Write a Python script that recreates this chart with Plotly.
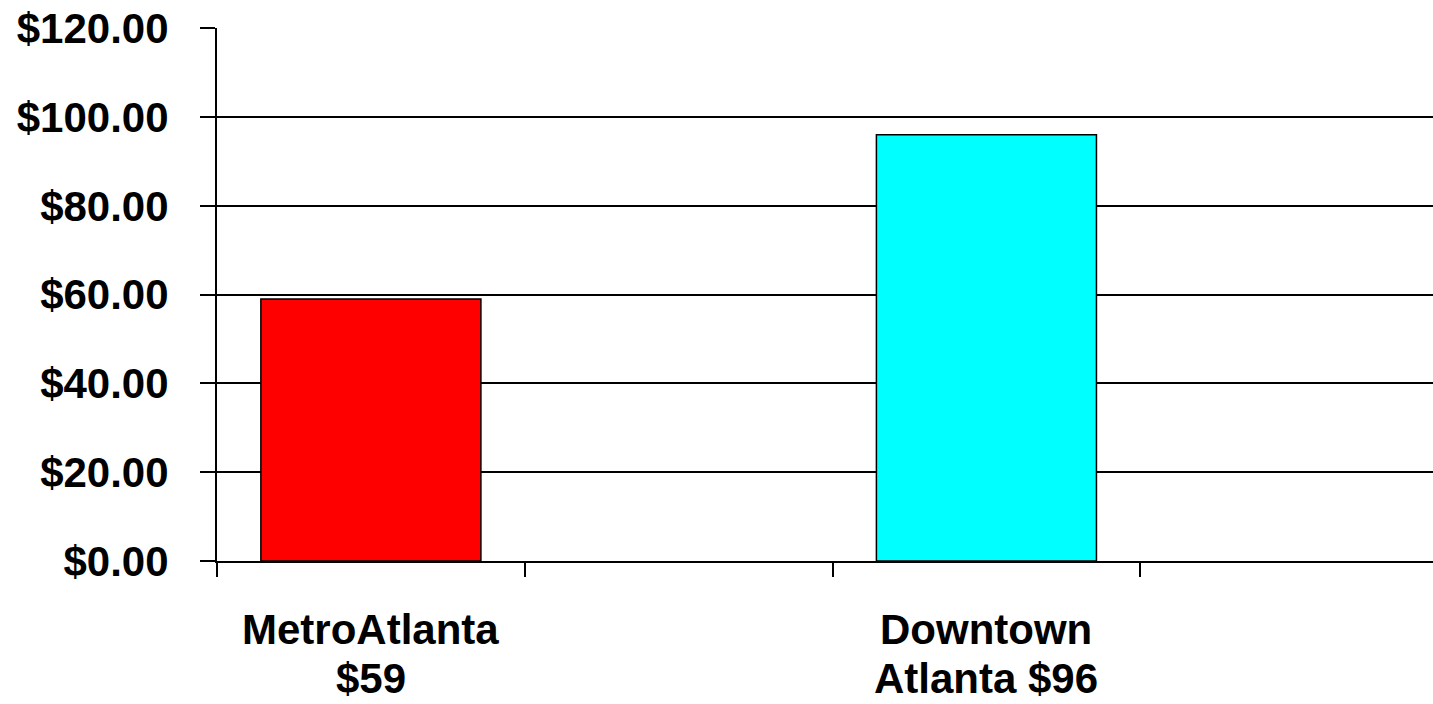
import plotly.graph_objects as go

# Average daily rate by market area
label_lines = [["MetroAtlanta", "$59"], ["Downtown", "Atlanta $96"]]
values = [59, 96]
positions = [0, 2]
colors = ["#ff0000", "#00ffff"]
slot_edges = [-0.5, 0.5, 1.5, 2.5]
y_ticks = [0, 20, 40, 60, 80, 100, 120]
y_tick_text = ["$%.2f" % v for v in y_ticks]

font_family = "Liberation Sans, Arial, sans-serif"
label_font = dict(family=font_family, size=42, color="black", weight="bold")

fig = go.Figure(
    go.Bar(
        x=positions,
        y=values,
        width=0.715,
        marker=dict(color=colors, line=dict(color="black", width=1.5)),
        hoverinfo="skip",
    )
)

# Two-line category labels under the axis, one annotation per line
line_offsets = [-43, -92]
for pos, lines in zip(positions, label_lines):
    for text, shift in zip(lines, line_offsets):
        fig.add_annotation(
            x=pos,
            xref="x",
            y=0,
            yref="paper",
            yanchor="top",
            yshift=shift,
            text=text,
            showarrow=False,
            font=label_font,
        )

fig.update_layout(
    width=1433,
    height=704,
    margin=dict(l=217, r=0, t=28, b=143),
    paper_bgcolor="white",
    plot_bgcolor="white",
    showlegend=False,
    font=dict(family=font_family, color="black"),
)

fig.update_xaxes(
    range=[-0.5, 3.451],
    automargin=False,
    tickmode="array",
    tickvals=slot_edges,
    ticktext=[""] * len(slot_edges),
    ticks="outside",
    ticklen=14,
    tickwidth=2,
    tickcolor="black",
    showgrid=False,
    zeroline=False,
    showline=True,
    linecolor="black",
    linewidth=2,
)

fig.update_yaxes(
    range=[0, 120.05],
    automargin=False,
    tickmode="array",
    tickvals=y_ticks,
    ticktext=y_tick_text,
    ticks="outside",
    ticklen=15,
    tickwidth=2,
    tickcolor="black",
    ticklabelstandoff=23,
    tickfont=label_font,
    showgrid=True,
    gridcolor="black",
    gridwidth=1.5,
    zeroline=False,
    showline=True,
    linecolor="black",
    linewidth=2,
)

fig.write_html("out.html")
